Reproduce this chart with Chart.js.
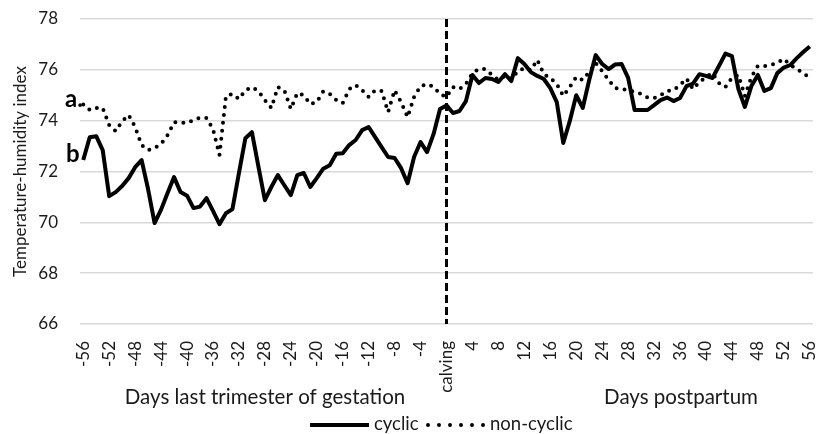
<!DOCTYPE html>
<html><head><meta charset="utf-8">
<script src="https://cdn.jsdelivr.net/npm/chart.js@4/dist/chart.umd.min.js"></script>
<style>html,body{margin:0;padding:0;background:#fff;}</style>
</head><body>
<canvas id="c" width="819" height="434"></canvas>
<script>
// Day categories: -56 ... 56 (0 = calving)
const days = [];
for (let d = -56; d <= 56; d++) days.push(d);

const shownTicks = [-56,-52,-48,-44,-40,-36,-32,-28,-24,-20,-16,-12,-8,-4,0,4,8,12,16,20,24,28,32,36,40,44,48,52,56];
const calvingLabel = 'calving';

const cyclic = [
  72.45,73.35,73.39,72.84,71.03,71.19,71.43,71.74,72.17,72.45,
  71.30,69.97,70.50,71.15,71.78,71.19,71.05,70.56,70.62,70.95,
  70.45,69.93,70.36,70.52,71.94,73.31,73.55,72.20,70.87,71.39,
  71.86,71.46,71.07,71.86,71.94,71.39,71.74,72.11,72.25,72.70,
  72.72,73.04,73.24,73.63,73.75,73.35,72.96,72.57,72.53,72.13,
  71.54,72.57,73.16,72.76,73.47,74.46,74.60,
  74.30,74.38,74.77,75.80,75.48,75.68,75.64,75.52,75.83,75.56,
  76.46,76.23,75.91,75.76,75.64,75.28,74.73,73.12,73.98,75.00,
  74.50,75.60,76.58,76.23,76.03,76.21,76.23,75.68,74.42,74.42,
  74.42,74.61,74.81,74.91,74.77,74.89,75.36,75.46,75.83,75.76,
  75.68,76.15,76.64,76.54,75.24,74.54,75.36,75.80,75.17,75.28,
  75.87,76.09,76.19,76.46,76.70,76.92
];

const nonCyclic = [
  74.64,74.42,74.50,74.50,73.83,73.59,73.98,74.22,73.75,73.04,
  72.84,72.92,73.08,73.43,73.94,73.93,73.91,74.02,74.12,74.10,
  73.67,72.65,74.97,75.05,74.85,75.20,75.32,75.17,74.81,74.50,
  75.32,75.20,74.46,75.09,75.00,74.65,74.73,75.15,75.05,74.81,
  74.69,75.24,75.40,75.20,74.93,75.20,75.17,74.34,75.20,74.73,
  74.14,74.93,75.36,75.44,75.34,75.05,74.93,
  75.32,75.24,75.44,75.87,76.03,76.03,75.80,75.60,75.76,75.64,
  75.95,76.07,75.99,76.39,75.83,75.68,75.44,74.97,75.32,75.72,
  75.60,75.91,76.27,75.95,75.60,75.28,75.24,75.20,75.13,75.05,
  74.91,74.89,75.00,75.17,75.20,75.40,75.66,75.24,75.52,75.72,
  75.87,75.48,75.32,75.68,75.80,74.97,75.72,76.15,76.15,76.19,
  76.27,76.43,76.19,76.03,75.87,75.68
];

const seriesNames = ['cyclic', 'non-cyclic'];
const groupLabels = ['a', 'b'];
const periodTitles = ['Days last trimester of gestation', 'Days postpartum'];

const FONT = 'Lato';
const TXT = '#1a1a1a';

const extras = {
  id: 'extras',
  afterDraw(chart) {
    const ctx = chart.ctx, ca = chart.chartArea;
    const xs = chart.scales.x;
    ctx.save();
    // calving dashed line
    const xc = xs.getPixelForValue(days.indexOf(0));
    ctx.strokeStyle = '#000'; ctx.lineWidth = 3; ctx.setLineDash([8, 4]);
    ctx.beginPath(); ctx.moveTo(xc, ca.top); ctx.lineTo(xc, ca.bottom); ctx.stroke();
    ctx.setLineDash([]);
    // group letters
    ctx.fillStyle = '#000';
    ctx.font = 'bold 24px ' + FONT;
    ctx.textAlign = 'left'; ctx.textBaseline = 'alphabetic';
    ctx.fillText(groupLabels[0] + '.', 65, 107);
    ctx.fillText(groupLabels[1], 66, 162);
    // period titles
    ctx.fillStyle = TXT;
    ctx.font = '20.5px ' + FONT;
    ctx.textAlign = 'center'; ctx.textBaseline = 'middle';
    ctx.fillText(periodTitles[0], 265, 397);
    ctx.fillText(periodTitles[1], 681, 397);
    // legend
    ctx.font = '18.5px ' + FONT;
    ctx.strokeStyle = '#000'; ctx.lineWidth = 4; ctx.lineCap = 'butt';
    ctx.beginPath(); ctx.moveTo(310, 425); ctx.lineTo(369, 425); ctx.stroke();
    ctx.textAlign = 'left';
    ctx.fillText(seriesNames[0], 374, 424);
    ctx.lineCap = 'round'; ctx.setLineDash([0, 11]);
    ctx.beginPath(); ctx.moveTo(428, 425); ctx.lineTo(484, 425); ctx.stroke();
    ctx.setLineDash([]);
    ctx.fillText(seriesNames[1], 490, 424);
    ctx.restore();
  }
};

new Chart(document.getElementById('c'), {
  type: 'line',
  data: {
    labels: days,
    datasets: [
      { label: seriesNames[0], data: cyclic, borderColor: '#000', borderWidth: 4,
        pointRadius: 0, tension: 0, borderJoinStyle: 'round', order: 1 },
      { label: seriesNames[1], data: nonCyclic, borderColor: '#000', borderWidth: 4,
        borderDash: [0, 8], borderCapStyle: 'round', pointRadius: 0, tension: 0, order: 0 }
    ]
  },
  options: {
    responsive: false, animation: false, devicePixelRatio: 1,
    layout: { padding: { left: 0, right: 6, top: 19, bottom: 0 } },
    plugins: { legend: { display: false }, tooltip: { enabled: false } },
    scales: {
      x: {
        type: 'category', offset: true,
        grid: { display: false }, border: { display: false },
        ticks: {
          autoSkip: false, minRotation: 90, maxRotation: 90, padding: 9,
          color: TXT, font: { family: FONT, size: 17 },
          callback: function(v, i) {
            const d = days[i];
            if (!shownTicks.includes(d)) return '';
            return d === 0 ? calvingLabel : String(d);
          }
        },
        afterFit: s => { s.height = 110; s.paddingLeft = 0; s.paddingRight = 0; }
      },
      y: {
        min: 66, max: 78,
        ticks: { stepSize: 2, padding: 22, color: TXT, font: { family: FONT, size: 17 } },
        grid: { color: '#d9d9d9', lineWidth: 1.5, drawTicks: false },
        border: { display: false },
        title: { display: true, text: 'Temperature-humidity index', color: TXT,
                 font: { family: FONT, size: 17 }, padding: { top: 10, bottom: 0 } },
        afterFit: s => { s.width = 80; s.paddingTop = 0; s.paddingBottom = 0; }
      }
    }
  },
  plugins: [extras]
});
</script>
</body></html>
